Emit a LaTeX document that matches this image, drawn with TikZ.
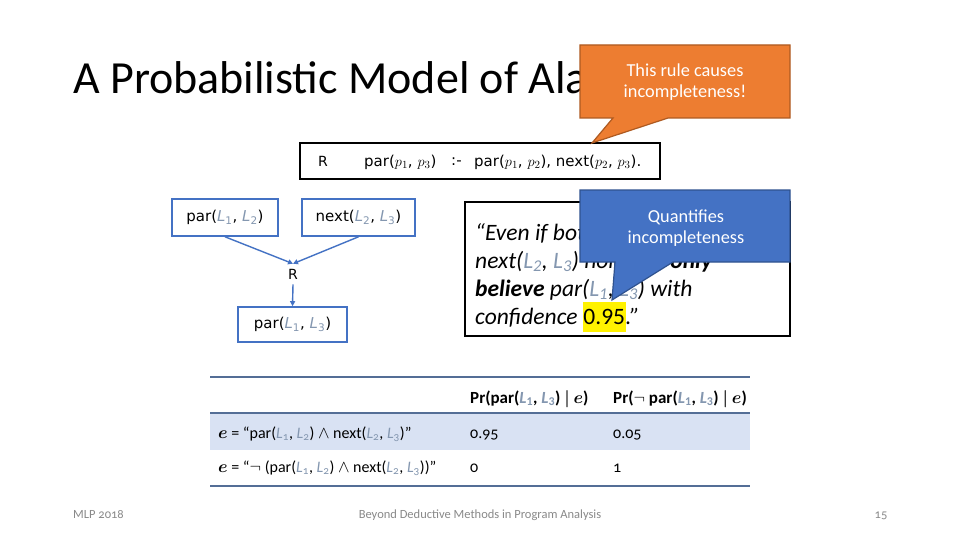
\documentclass[tikz,border=0pt]{standalone}
\usepackage{fontspec}
\usepackage{bm}
\setmainfont{Carlito}
\newfontfamily\boxfont{DejaVu Sans}
\newfontfamily\oldfig[Numbers=OldStyle]{Carlito}
\usetikzlibrary{arrows.meta,positioning}
\definecolor{lcol}{RGB}{132,151,176}
\definecolor{boxblue}{RGB}{68,114,196}
\definecolor{orfill}{RGB}{237,125,49}
\definecolor{ordraw}{RGB}{174,90,33}
\definecolor{blfill}{RGB}{68,114,196}
\definecolor{bldraw}{RGB}{47,82,143}
\definecolor{rulecol}{RGB}{84,110,150}
\definecolor{rowfill}{RGB}{217,226,243}
\definecolor{footgray}{RGB}{137,137,137}
\newcommand{\Lv}[1]{{\color{lcol}\textit{L}\textsubscript{#1}}}
\tikzset{
  lbox/.style={draw=boxblue, line width=1.6pt, minimum height=37pt, inner sep=2pt,
    font=\boxfont\fontsize{15}{18}\selectfont},
  arr/.style={draw=boxblue, line width=1.4pt, -{Triangle[length=5pt,width=5pt]}},
  calltext/.style={text=white, align=center, font=\fontsize{18.3}{21}\selectfont},
  rtext/.style={anchor=west, inner sep=0pt, font=\boxfont\fontsize{15}{18}\selectfont},
  quoteline/.style={anchor=base west, inner sep=0pt, font=\itshape\fontsize{23.5}{29}\selectfont},
  tabtext/.style={anchor=base west, inner sep=0pt, font=\oldfig\fontsize{16}{18}\selectfont},
  tabhead/.style={anchor=base west, inner sep=0pt, font=\bfseries\fontsize{17}{19}\selectfont},
  foot/.style={anchor=base, inner sep=0pt, text=footgray, font=\oldfig\fontsize{12.5}{14}\selectfont}
}
\begin{document}
\begin{tikzpicture}[x=1pt,y=-1pt]
\useasboundingbox (0,0) rectangle (960,540);
\fill[white] (0,0) rectangle (960,540);
% title
\node[anchor=base west, inner sep=0pt, font=\fontsize{46}{52}\selectfont] (title) at (73,94) {A Probabilistic Model of Alarms};
% the rule
\node[draw, line width=2pt, minimum width=360pt, minimum height=36pt] (rule) at (480,161) {};
\node[inner sep=0pt, font=\boxfont\fontsize{14}{17}\selectfont] (rname) at (323,161) {R};
\node[rtext] (rhead) at (364,162) {par($p_1$, $p_3$)};
\node[rtext] (rif) at (451,162) {:-};
\node[rtext] (rbody) at (474,162) {par($p_1$, $p_2$), next($p_2$, $p_3$).};
% derivation
\node[lbox, minimum width=106pt] (p12) at (225,217.5) {par(\Lv1, \Lv2)};
\node[lbox, minimum width=113pt] (n23) at (358.5,217.5) {next(\Lv2, \Lv3)};
\node[inner sep=5pt, font=\boxfont\fontsize{14}{17}\selectfont] (rr) at (293,274) {R};
\node[lbox, minimum width=109pt, minimum height=35pt] (p13) at (292.5,324.5) {par(\Lv1, \Lv3)};
\draw[arr] (p12.south) -- (rr.north);
\draw[arr] (n23.south) -- (rr.north);
\draw[arr] (rr.south) -- (p13.north);
% quote
\node[draw, line width=2pt, minimum width=325pt, minimum height=134pt] (quote) at (627.5,269) {};
\node[quoteline] (q1) at (475,240) {“Even if both par(\Lv1, \Lv2) and};
\node[quoteline] (q2) at (475,268) {next(\Lv2, \Lv3) hold, we \textbf{only}};
\node[quoteline] (q3) at (475,296) {\textbf{believe} par(\Lv1, \Lv3) with};
\node[quoteline] (q4) at (475,324) {confidence {\setlength{\fboxsep}{0.5pt}\colorbox{yellow}{\rule[-7pt]{0pt}{29pt}\upshape 0.95}}.”};
% callouts
\draw[fill=orfill, draw=ordraw, line width=1.2pt] (580,45) -- (790,45) -- (790,118) -- (668,118)
  -- (592,143) -- (613,118) -- (580,118) -- cycle;
\node[calltext] (cause) at (685,82) {This rule causes\\incompleteness!};
\draw[fill=blfill, draw=bldraw, line width=1.2pt] (580,190) -- (790,190) -- (790,262) -- (673,262)
  -- (612,300) -- (615,262) -- (580,262) -- cycle;
\node[calltext] (quant) at (686,228) {Quantifies\\incompleteness};
% table
\fill[rowfill] (210,414) rectangle (750,450);
\draw[rulecol, line width=2.5pt] (210,377) -- (750,377);
\draw[rulecol, line width=1.8pt] (210,413) -- (750,413);
\draw[rulecol, line width=2.5pt] (210,486) -- (750,486);
\node[tabhead] (h1) at (470,403) {Pr(par(\Lv1, \Lv3) $\bm{|}$ $\bm{e}$)};
\node[tabhead] (h2) at (613,403) {Pr($\neg$ par(\Lv1, \Lv3) $\bm{|}$ $\bm{e}$)};
\node[tabtext] (e1) at (218,438) {$\bm{e}$ = “par(\Lv1, \Lv2) $\wedge$ next(\Lv2, \Lv3)”};
\node[tabtext] (v11) at (470,438) {0.95};
\node[tabtext] (v12) at (613,438) {0.05};
\node[tabtext] (e2) at (218,472) {$\bm{e}$ = “$\neg$ (par(\Lv1, \Lv2) $\wedge$ next(\Lv2, \Lv3))”};
\node[tabtext] (v21) at (470,472) {0};
\node[tabtext] (v22) at (613,472) {1};
% footer
\node[foot, anchor=base west] (fl) at (73,518) {MLP 2018};
\node[foot] (fc) at (480,518) {Beyond Deductive Methods in Program Analysis};
\node[foot] (fr) at (881,518) {15};
\end{tikzpicture}
\end{document}
